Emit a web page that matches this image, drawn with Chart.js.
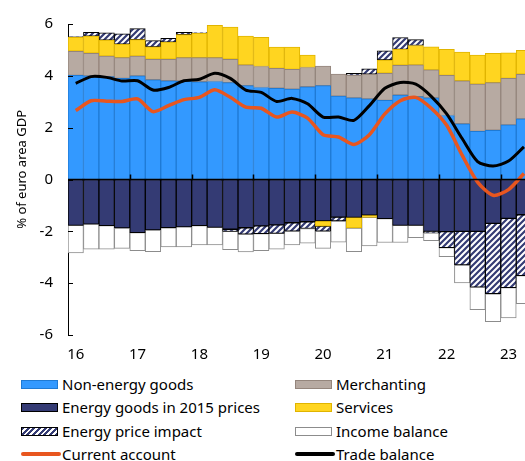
<!DOCTYPE html>
<html>
<head>
<meta charset="utf-8">
<script src="https://cdn.jsdelivr.net/npm/chart.js@4.4.1/dist/chart.umd.min.js"></script>
<style>
  html, body { margin: 0; padding: 0; background: #fff; width: 525px; height: 461px; overflow: hidden; }
  #wrap { position: absolute; left: 0; top: 0; width: 535px; height: 364px; }
  .legend { position: absolute; left: 0; top: 0; font-family: "Noto Sans", sans-serif; font-size: 15px; color: #000; }
  .item { position: absolute; height: 20px; line-height: 20px; white-space: nowrap; }
  .sw { position: absolute; left: 0; top: 6px; width: 35px; height: 7px; box-sizing: content-box; }
  .ln { position: absolute; left: 0; top: 8px; width: 40px; height: 4px; border-radius: 2px; }
  .lbl { position: absolute; left: 41px; top: 0; }
</style>
</head>
<body>
<div id="wrap"><canvas id="chart"></canvas></div>
<div class="legend" id="legend"></div>
<script>
// Quarterly data, 2016Q1 - 2023Q2 (% of euro area GDP)
const quarters = ['2016Q1','2016Q2','2016Q3','2016Q4','2017Q1','2017Q2','2017Q3','2017Q4',
  '2018Q1','2018Q2','2018Q3','2018Q4','2019Q1','2019Q2','2019Q3','2019Q4',
  '2020Q1','2020Q2','2020Q3','2020Q4','2021Q1','2021Q2','2021Q3','2021Q4',
  '2022Q1','2022Q2','2022Q3','2022Q4','2023Q1','2023Q2'];

const nonEnergyGoods = [4.02,4.00,3.97,3.90,4.00,3.85,3.81,3.80,3.77,3.78,3.74,3.62,3.55,3.52,3.49,3.58,
  3.62,3.22,3.15,3.11,3.05,3.26,3.20,3.15,2.47,2.15,1.86,1.90,2.11,2.34];
const energyGoods2015 = [-1.77,-1.72,-1.78,-1.87,-2.05,-1.95,-1.86,-1.83,-1.78,-1.85,-1.92,-1.86,-1.79,-1.75,-1.67,-1.63,
  -1.60,-1.45,-1.46,-1.38,-1.51,-1.77,-1.77,-2.00,-2.01,-2.00,-2.00,-1.69,-1.50,-1.36];
const merchanting = [0.93,0.87,0.79,0.80,0.76,0.79,0.83,0.90,0.93,0.92,0.90,0.80,0.81,0.77,0.76,0.74,
  0.76,0.85,0.87,0.95,1.05,1.15,1.22,1.08,1.55,1.66,1.82,1.84,1.79,1.72];
const services = [0.54,0.66,0.62,0.52,0.64,0.48,0.66,0.89,0.94,1.25,1.24,1.11,1.13,0.82,0.86,0.48,
  -0.20,0,-0.41,-0.08,0.51,0.61,0.75,0.89,1.00,1.11,1.12,1.13,0.99,0.92];
const energyPriceImpact = [0.02,0.15,0.28,0.40,0.42,0.24,0.15,0.09,0.03,0,-0.08,-0.25,-0.30,-0.33,-0.32,-0.26,
  -0.19,-0.15,0.08,0.21,0.35,0.46,0.23,-0.06,-0.62,-1.30,-2.15,-2.72,-2.67,-2.35];
const incomeBalance = [-1.06,-0.97,-0.91,-0.79,-0.70,-0.83,-0.74,-0.77,-0.74,-0.67,-0.71,-0.68,-0.66,-0.61,-0.53,-0.57,
  -0.67,-0.82,-0.91,-1.10,-0.92,-0.66,-0.47,-0.30,-0.35,-0.69,-0.87,-1.08,-1.17,-1.08];
const currentAccount = [2.66,3.04,3.02,3.01,3.11,2.62,2.85,3.08,3.17,3.46,3.17,2.79,2.75,2.41,2.60,2.37,
  1.73,1.64,1.35,1.73,2.53,3.04,3.17,2.75,2.09,0.94,-0.10,-0.61,-0.39,0.23];
const tradeBalance = [3.71,3.97,3.94,3.80,3.81,3.45,3.55,3.81,3.87,4.10,3.90,3.45,3.36,3.01,3.13,2.92,
  2.41,2.41,2.28,2.85,3.52,3.74,3.68,3.21,2.53,1.58,0.69,0.52,0.71,1.26];
const yTicks = [-6,-4,-2,0,2,4,6];

const FONT = '"Noto Sans", sans-serif';
const NAVY = '#343b74';

function makeHatch() {
  const c = document.createElement('canvas');
  c.width = 6; c.height = 6;
  const g = c.getContext('2d');
  g.fillStyle = '#fff';
  g.fillRect(0, 0, 6, 6);
  g.strokeStyle = NAVY;
  g.lineWidth = 2.2;
  g.beginPath();
  g.moveTo(-1, 7); g.lineTo(7, -1);
  g.moveTo(-4, 4); g.lineTo(4, -4);
  g.moveTo(2, 10); g.lineTo(10, 2);
  g.stroke();
  return g.createPattern(c, 'repeat');
}
const hatch = makeHatch();

function bar(label, data, bg, border) {
  return {
    type: 'bar', label: label, data: data, stack: 'bars', order: 2,
    backgroundColor: bg, borderColor: border, borderWidth: 1, borderSkipped: false,
    barPercentage: 1, categoryPercentage: 1
  };
}

// axis line at zero, year ticks and inward y ticks
const axisPlugin = {
  id: 'axisPlugin',
  afterDatasetsDraw(chart) {
    const { ctx, chartArea, scales: { x, y } } = chart;
    const y0 = y.getPixelForValue(0);
    ctx.save();
    ctx.strokeStyle = '#000';
    ctx.lineWidth = 1.5;
    ctx.beginPath();
    ctx.moveTo(chartArea.left, y0);
    ctx.lineTo(chartArea.right, y0);
    quarters.forEach((q, i) => {
      if (i > 0 && q.endsWith('Q1')) {
        const xp = Math.round((x.getPixelForValue(i - 1) + x.getPixelForValue(i)) / 2) + 0.5;
        ctx.moveTo(xp, y0);
        ctx.lineTo(xp, y0 - 5);
      }
    });
    ctx.stroke();
    ctx.lineWidth = 1;
    ctx.beginPath();
    yTicks.forEach(v => {
      const yp = Math.round(y.getPixelForValue(v)) + 0.5;
      ctx.moveTo(chartArea.left, yp);
      ctx.lineTo(chartArea.left + 5, yp);
    });
    ctx.stroke();
    ctx.restore();
  }
};

new Chart(document.getElementById('chart'), {
  data: {
    labels: quarters,
    datasets: [
      bar('Non-energy goods', nonEnergyGoods, '#3399ff', '#1f7ad4'),
      bar('Energy goods in 2015 prices', energyGoods2015, NAVY, '#000'),
      bar('Merchanting', merchanting, '#b7aaa2', '#94857c'),
      bar('Services', services, '#ffd520', '#e0b400'),
      bar('Energy price impact', energyPriceImpact, hatch, '#000'),
      bar('Income balance', incomeBalance, '#fff', '#8c8c8c'),
      {
        type: 'line', label: 'Current account', data: currentAccount, stack: 'ca', order: 1,
        borderColor: '#e8561f', borderWidth: 3.5, pointRadius: 0, tension: 0.25, fill: false
      },
      {
        type: 'line', label: 'Trade balance', data: tradeBalance, stack: 'tb', order: 0,
        borderColor: '#000', borderWidth: 3, pointRadius: 0, tension: 0.25, fill: false
      }
    ]
  },
  options: {
    responsive: true,
    maintainAspectRatio: false,
    animation: false,
    layout: { padding: { left: 0, right: 2, top: 12, bottom: 0 } },
    plugins: { legend: { display: false }, tooltip: { enabled: false } },
    scales: {
      x: {
        stacked: true,
        grid: { display: false, drawTicks: false },
        border: { display: false },
        afterFit: axis => { axis.height = 29; },
        ticks: {
          autoSkip: false, maxRotation: 0, padding: 11,
          color: '#000', font: { family: FONT, size: 15 },
          callback: (v, i) => quarters[i].endsWith('Q1') ? quarters[i].slice(2, 4) : ''
        }
      },
      y: {
        stacked: true,
        min: -6, max: 6,
        afterBuildTicks: axis => { axis.ticks = yTicks.map(v => ({ value: v })); },
        afterFit: axis => { axis.width = 68; },
        grid: { display: false, drawTicks: false },
        border: { display: true, color: '#000', width: 1 },
        ticks: { padding: 15, color: '#000', font: { family: FONT, size: 15 } },
        title: { display: true, text: '      % of euro area GDP', color: '#000', font: { family: FONT, size: 13 }, padding: { top: 14, bottom: 4 } }
      }
    }
  },
  plugins: [axisPlugin]
});

// legend
const legendItems = [
  { text: 'Non-energy goods', col: 0, row: 0, style: 'background:#3399ff;border:1px solid #1f7ad4' },
  { text: 'Merchanting', col: 1, row: 0, style: 'background:#b7aaa2;border:1px solid #94857c' },
  { text: 'Energy goods in 2015 prices', col: 0, row: 1, style: 'background:' + NAVY + ';border:1px solid #000' },
  { text: 'Services', col: 1, row: 1, style: 'background:#ffd520;border:1px solid #e0b400' },
  { text: 'Energy price impact', col: 0, row: 2, style: 'background:repeating-linear-gradient(-45deg,' + NAVY + ' 0 2px,#fff 2px 4px);border:1px solid #000' },
  { text: 'Income balance', col: 1, row: 2, style: 'background:#fff;border:1px solid #8c8c8c' },
  { text: 'Current account', col: 0, row: 3, line: '#e8561f' },
  { text: 'Trade balance', col: 1, row: 3, line: '#000' }
];
const rowY = [374, 397, 421, 444];
const colX = [21, 295];
const legend = document.getElementById('legend');
legendItems.forEach(it => {
  const d = document.createElement('div');
  d.className = 'item';
  d.style.left = colX[it.col] + 'px';
  d.style.top = rowY[it.row] + 'px';
  const sw = it.line
    ? '<span class="ln" style="background:' + it.line + '"></span>'
    : '<span class="sw" style="' + it.style + '"></span>';
  d.innerHTML = sw + '<span class="lbl">' + it.text + '</span>';
  legend.appendChild(d);
});
</script>
</body>
</html>
